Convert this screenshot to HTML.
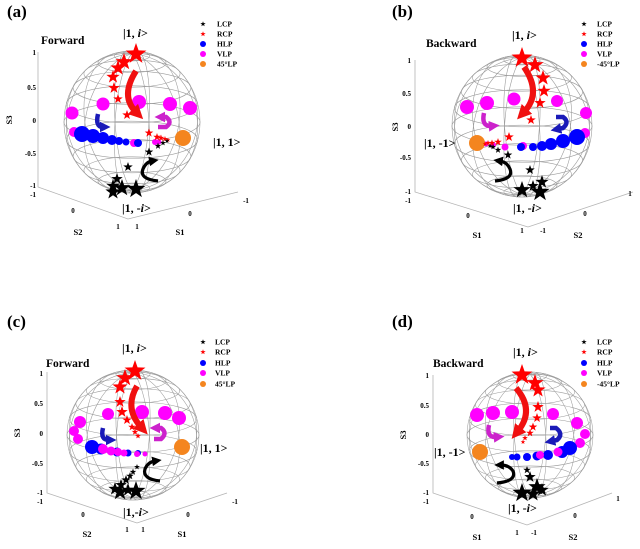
<!DOCTYPE html>
<html><head><meta charset="utf-8"><style>
html,body{margin:0;padding:0;background:#fff;}
svg{display:block;}
text{font-family:"Liberation Serif","Times New Roman",serif;fill:#000;}
.tk{font-size:7px;font-weight:bold;fill:#222;}
.al{font-size:8.5px;font-weight:bold;}
.lg{font-size:7.5px;font-weight:bold;}
.pl{font-size:17px;font-weight:bold;}
.dr{font-size:11.5px;font-weight:bold;}
.ket{font-size:12px;font-weight:bold;}
.ax{stroke:#b4b4b4;stroke-width:0.8;fill:none;}
</style></head><body>
<svg width="640" height="549" viewBox="0 0 640 549" xmlns="http://www.w3.org/2000/svg">
<defs>
<path id="st" d="M0,-1 L.235,-.324 L.951,-.309 L.38,.124 L.588,.809 L0,.4 L-.588,.809 L-.38,.124 L-.951,-.309 L-.235,-.324Z"/>
<g id="sph" fill="none" stroke="#9c9c9c" stroke-width="0.0085">
<circle r="1"/>
<ellipse rx="1" ry="0.27"/>
<ellipse cy="-0.2492" rx="0.9659" ry="0.2608"/>
<ellipse cy="0.2492" rx="0.9659" ry="0.2608"/>
<ellipse cy="-0.4815" rx="0.866" ry="0.2338"/>
<ellipse cy="0.4815" rx="0.866" ry="0.2338"/>
<ellipse cy="-0.6809" rx="0.7071" ry="0.1909"/>
<ellipse cy="0.6809" rx="0.7071" ry="0.1909"/>
<ellipse cy="-0.834" rx="0.5" ry="0.135"/>
<ellipse cy="0.834" rx="0.5" ry="0.135"/>
<ellipse cy="-0.9302" rx="0.2588" ry="0.0699"/>
<ellipse cy="0.9302" rx="0.2588" ry="0.0699"/>
<ellipse rx="1" ry="0.93" transform="rotate(44.8)"/>
<ellipse rx="1" ry="0.681" transform="rotate(74.9)"/>
<ellipse rx="1" ry="0.2492" transform="rotate(85.86)"/>
<ellipse rx="1" ry="0.2492" transform="rotate(-85.86)"/>
<ellipse rx="1" ry="0.681" transform="rotate(-74.9)"/>
<ellipse rx="1" ry="0.93" transform="rotate(-44.8)"/>
</g>
<marker id="aR" viewBox="0 0 10 10" refX="3" refY="5" markerWidth="2.4" markerHeight="2.4" orient="auto"><path d="M0,0 L10,5 L0,10z" fill="#f01010"/></marker>
<marker id="aM" viewBox="0 0 10 10" refX="3" refY="5" markerWidth="2.4" markerHeight="2.4" orient="auto"><path d="M0,0 L10,5 L0,10z" fill="#cc22cc"/></marker>
<marker id="aB" viewBox="0 0 10 10" refX="3" refY="5" markerWidth="2.4" markerHeight="2.4" orient="auto"><path d="M0,0 L10,5 L0,10z" fill="#1a1ab8"/></marker>
<marker id="aK" viewBox="0 0 10 10" refX="3" refY="5" markerWidth="3" markerHeight="3" orient="auto"><path d="M0,0 L10,5 L0,10z" fill="#000"/></marker>
</defs>

<!-- ================= PANEL A ================= -->
<text class="pl" x="7" y="17">(a)</text>
<text class="dr" x="41" y="44">Forward</text>
<path class="ax" d="M38,52 L38,187 L128,219 L238,192"/>
<g class="tk" text-anchor="end">
<text x="36" y="55">1</text><text x="36" y="90">0.5</text><text x="36" y="123">0</text><text x="36" y="156">-0.5</text><text x="36" y="188">-1</text><text x="36" y="197">-1</text>
</g>
<g class="tk" text-anchor="middle">
<text x="73" y="213">0</text><text x="118" y="229">1</text>
<text x="137" y="229">1</text><text x="190" y="216">0</text><text x="246" y="203">-1</text>
</g>
<text class="al" x="78" y="235" text-anchor="middle">S2</text>
<text class="al" x="180" y="235" text-anchor="middle">S1</text>
<text class="al" transform="translate(12,120) rotate(-90)" text-anchor="middle">S3</text>
<use href="#sph" transform="translate(132,122) scale(68,71)"/>
<g fill="#ff00ff">
<circle cx="103" cy="104" r="6.5"/><circle cx="139" cy="102" r="7"/><circle cx="170" cy="104" r="7"/><circle cx="190" cy="108" r="7"/><circle cx="72" cy="113" r="6.5"/><circle cx="74" cy="132" r="5"/><circle cx="134" cy="143" r="4"/><circle cx="155" cy="142" r="3"/><circle cx="159" cy="142" r="2.5"/>
</g>
<g fill="#0000ff">
<circle cx="82" cy="134" r="8"/><circle cx="93" cy="136" r="7"/><circle cx="103" cy="138" r="6"/><circle cx="112" cy="140" r="5"/><circle cx="119" cy="141" r="4"/><circle cx="126" cy="142" r="3.5"/><circle cx="138" cy="143" r="4"/>
</g>
<circle cx="183" cy="138" r="8" fill="#f4851f"/>
<g fill="#ff0000">
<use href="#st" transform="translate(136,54) scale(11)"/><use href="#st" transform="translate(124,62) scale(9)"/><use href="#st" transform="translate(118,68) scale(8)"/><use href="#st" transform="translate(113,77) scale(7)"/><use href="#st" transform="translate(114,88) scale(6)"/><use href="#st" transform="translate(118,99) scale(5)"/><use href="#st" transform="translate(127,115) scale(5)"/><use href="#st" transform="translate(149,133) scale(4.5)"/><use href="#st" transform="translate(157,137) scale(4)"/><use href="#st" transform="translate(161,138) scale(3.5)"/><use href="#st" transform="translate(165,139) scale(3)"/><use href="#st" transform="translate(168,140) scale(2.5)"/>
</g>
<g fill="#000">
<use href="#st" transform="translate(149,152) scale(4.5)"/><use href="#st" transform="translate(158,146) scale(3.5)"/><use href="#st" transform="translate(163,143) scale(3)"/><use href="#st" transform="translate(167,141) scale(2.5)"/><use href="#st" transform="translate(128,167) scale(5)"/><use href="#st" transform="translate(117,179) scale(6)"/><use href="#st" transform="translate(113,186) scale(7)"/><use href="#st" transform="translate(113,192) scale(8)"/><use href="#st" transform="translate(122,188) scale(9)"/><use href="#st" transform="translate(136,189) scale(10)"/>
</g>
<path d="M136,71 Q120,96 136,112" stroke="#f01010" stroke-width="6" fill="none" marker-end="url(#aR)"/>
<path d="M158,127 L166,127 Q173,122 166,117 L162,117" stroke="#cc22cc" stroke-width="4.5" fill="none" marker-end="url(#aM)"/>
<path d="M98,114 Q95,127 103,127" stroke="#1a1ab8" stroke-width="4.5" fill="none" marker-end="url(#aB)"/>
<path d="M158,181 Q139,179 143,169 Q146,162 152,161" stroke="#000" stroke-width="3.2" fill="none" marker-end="url(#aK)"/>
<text class="ket" x="123" y="37">|1, <tspan font-style="italic">i</tspan>&gt;</text>
<text class="ket" x="213" y="146">|1, 1&gt;</text>
<text class="ket" x="122" y="212">|1, -<tspan font-style="italic">i</tspan>&gt;</text>
<use href="#st" transform="translate(203,24) scale(2.8)" fill="#000"/>
<use href="#st" transform="translate(203,34) scale(2.8)" fill="#ff0000"/>
<circle cx="203" cy="44" r="3" fill="#0000ff"/>
<circle cx="203" cy="54" r="3" fill="#ff00ff"/>
<circle cx="203" cy="64" r="3" fill="#f4851f"/>
<g class="lg"><text x="217" y="26.5">LCP</text><text x="217" y="36.5">RCP</text><text x="217" y="46.5">HLP</text><text x="217" y="56.5">VLP</text><text x="217" y="66.5">45°LP</text></g>

<!-- ================= PANEL B ================= -->
<text class="pl" x="392" y="17">(b)</text>
<text class="dr" x="426" y="47">Backward</text>
<path class="ax" d="M415,60 L415,192 L528,227 L633,192"/>
<g class="tk" text-anchor="end">
<text x="411" y="63">1</text><text x="411" y="96">0.5</text><text x="411" y="129">0</text><text x="411" y="160">-0.5</text><text x="411" y="194">-1</text><text x="411" y="203">-1</text>
</g>
<g class="tk" text-anchor="middle">
<text x="468" y="218">0</text><text x="522" y="233">1</text>
<text x="543" y="233">-1</text><text x="585" y="216">0</text><text x="630" y="196">1</text>
</g>
<text class="al" x="477" y="238" text-anchor="middle">S1</text>
<text class="al" x="578" y="238" text-anchor="middle">S2</text>
<text class="al" transform="translate(398,127) rotate(-90)" text-anchor="middle">S3</text>
<use href="#sph" transform="translate(522,126) scale(70,71)"/>
<g fill="#ff00ff">
<circle cx="467" cy="107" r="7"/><circle cx="487" cy="103" r="7"/><circle cx="514" cy="99" r="6.5"/><circle cx="557" cy="101" r="6"/><circle cx="586" cy="113" r="6"/><circle cx="585" cy="133" r="5"/><circle cx="523" cy="146" r="4"/><circle cx="505" cy="147" r="3.5"/><circle cx="493" cy="145" r="3"/><circle cx="486" cy="144" r="2.5"/>
</g>
<g fill="#0000ff">
<circle cx="577" cy="137" r="8"/><circle cx="563" cy="141" r="7"/><circle cx="551" cy="144" r="6"/><circle cx="542" cy="146" r="5"/><circle cx="533" cy="147" r="4"/><circle cx="521" cy="147" r="4"/>
</g>
<circle cx="477" cy="143" r="8" fill="#f4851f"/>
<g fill="#ff0000">
<use href="#st" transform="translate(522,58) scale(11)"/><use href="#st" transform="translate(535,65) scale(9)"/><use href="#st" transform="translate(543,78) scale(8)"/><use href="#st" transform="translate(544,91) scale(7)"/><use href="#st" transform="translate(540,103) scale(6)"/><use href="#st" transform="translate(531,120) scale(5)"/><use href="#st" transform="translate(509,137) scale(5)"/><use href="#st" transform="translate(498,142) scale(4)"/><use href="#st" transform="translate(492,143) scale(3.5)"/><use href="#st" transform="translate(488,143) scale(3)"/><use href="#st" transform="translate(485,144) scale(2.5)"/>
</g>
<g fill="#000">
<use href="#st" transform="translate(508,155) scale(4.5)"/><use href="#st" transform="translate(498,150) scale(3.5)"/><use href="#st" transform="translate(493,147) scale(3)"/><use href="#st" transform="translate(490,146) scale(2.5)"/><use href="#st" transform="translate(530,170) scale(5)"/><use href="#st" transform="translate(522,190) scale(9)"/><use href="#st" transform="translate(542,182) scale(7)"/><use href="#st" transform="translate(540,192) scale(10)"/><use href="#st" transform="translate(533,186) scale(6)"/>
</g>
<path d="M524,67 Q542,93 524,112" stroke="#f01010" stroke-width="6" fill="none" marker-end="url(#aR)"/>
<path d="M484,113 Q481,127 492,126" stroke="#cc22cc" stroke-width="4.5" fill="none" marker-end="url(#aM)"/>
<path d="M556,117 L563,117 Q570,122 563,128 L558,129" stroke="#1a1ab8" stroke-width="4.5" fill="none" marker-end="url(#aB)"/>
<path d="M495,181 Q514,179 510,169 Q507,162 500,161" stroke="#000" stroke-width="3.2" fill="none" marker-end="url(#aK)"/>
<text class="ket" x="512" y="39">|1, <tspan font-style="italic">i</tspan>&gt;</text>
<text class="ket" x="424" y="147">|1, -1&gt;</text>
<text class="ket" x="513" y="212">|1, -<tspan font-style="italic">i</tspan>&gt;</text>
<use href="#st" transform="translate(584,24) scale(2.8)" fill="#000"/>
<use href="#st" transform="translate(584,34) scale(2.8)" fill="#ff0000"/>
<circle cx="584" cy="44" r="3" fill="#0000ff"/>
<circle cx="584" cy="54" r="3" fill="#ff00ff"/>
<circle cx="584" cy="64" r="3" fill="#f4851f"/>
<g class="lg"><text x="597" y="26.5">LCP</text><text x="597" y="36.5">RCP</text><text x="597" y="46.5">HLP</text><text x="597" y="56.5">VLP</text><text x="597" y="66.5">-45°LP</text></g>

<!-- ================= PANEL C ================= -->
<text class="pl" x="7" y="327">(c)</text>
<text class="dr" x="46" y="367">Forward</text>
<path class="ax" d="M47,372 L47,493 L137,523 L227,493"/>
<g class="tk" text-anchor="end">
<text x="43" y="376">1</text><text x="43" y="406">0.5</text><text x="43" y="436">0</text><text x="43" y="466">-0.5</text><text x="43" y="495">-1</text><text x="43" y="504">-1</text>
</g>
<g class="tk" text-anchor="middle">
<text x="83" y="517">0</text><text x="127" y="532">1</text>
<text x="143" y="532">1</text><text x="188" y="517">0</text><text x="235" y="504">-1</text>
</g>
<text class="al" x="87" y="537" text-anchor="middle">S2</text>
<text class="al" x="182" y="537" text-anchor="middle">S1</text>
<text class="al" transform="translate(20,433) rotate(-90)" text-anchor="middle">S3</text>
<use href="#sph" transform="translate(133,435) scale(66,65)"/>
<g fill="#ff00ff">
<circle cx="80" cy="422" r="6"/><circle cx="74" cy="431" r="5"/><circle cx="78" cy="439" r="5"/><circle cx="108" cy="414" r="6"/><circle cx="142" cy="412" r="7"/><circle cx="165" cy="413" r="7"/><circle cx="179" cy="418" r="7"/>
</g>
<g fill="#0000ff">
<circle cx="92" cy="447" r="7"/><circle cx="101" cy="449" r="5.5"/><circle cx="117" cy="452" r="4.5"/><circle cx="128" cy="453" r="3.5"/><circle cx="138" cy="453" r="3"/>
</g>
<g fill="#ff00ff">
<circle cx="103" cy="449" r="5"/><circle cx="111" cy="451" r="4.5"/><circle cx="118" cy="452" r="4"/><circle cx="124" cy="453" r="3.5"/><circle cx="137" cy="454" r="3"/><circle cx="145" cy="454" r="2.5"/>
</g>
<circle cx="182" cy="447" r="8" fill="#f4851f"/>
<g fill="#ff0000">
<use href="#st" transform="translate(135,371) scale(11)"/><use href="#st" transform="translate(125,378) scale(9)"/><use href="#st" transform="translate(120,387) scale(8)"/><use href="#st" transform="translate(120,402) scale(6)"/><use href="#st" transform="translate(122,412) scale(6)"/><use href="#st" transform="translate(127,420) scale(5)"/><use href="#st" transform="translate(132,427) scale(4)"/><use href="#st" transform="translate(135,432) scale(3.5)"/><use href="#st" transform="translate(138,436) scale(3)"/>
</g>
<g fill="#000">
<use href="#st" transform="translate(137,467) scale(3)"/><use href="#st" transform="translate(133,472) scale(3.5)"/><use href="#st" transform="translate(130,476) scale(4)"/><use href="#st" transform="translate(126,480) scale(5)"/><use href="#st" transform="translate(121,485) scale(6)"/><use href="#st" transform="translate(115,489) scale(7)"/><use href="#st" transform="translate(128,490) scale(7)"/><use href="#st" transform="translate(120,492) scale(9)"/><use href="#st" transform="translate(136,491) scale(10)"/>
</g>
<path d="M137,386 Q124,408 141,427" stroke="#f01010" stroke-width="6" fill="none" marker-end="url(#aR)"/>
<path d="M154,439 L161,439 Q168,433 161,428 L157,428" stroke="#cc22cc" stroke-width="4.5" fill="none" marker-end="url(#aM)"/>
<path d="M103,428 Q100,440 109,440" stroke="#1a1ab8" stroke-width="4.5" fill="none" marker-end="url(#aB)"/>
<path d="M160,481 Q142,479 145,469 Q148,462 155,461" stroke="#000" stroke-width="3.2" fill="none" marker-end="url(#aK)"/>
<text class="ket" x="122" y="352">|1, <tspan font-style="italic">i</tspan>&gt;</text>
<text class="ket" x="200" y="452">|1, 1&gt;</text>
<text class="ket" x="123" y="516">|1,-<tspan font-style="italic">i</tspan>&gt;</text>
<use href="#st" transform="translate(203,342) scale(2.8)" fill="#000"/>
<use href="#st" transform="translate(203,352) scale(2.8)" fill="#ff0000"/>
<circle cx="203" cy="363" r="3" fill="#0000ff"/>
<circle cx="203" cy="373" r="3" fill="#ff00ff"/>
<circle cx="203" cy="384" r="3" fill="#f4851f"/>
<g class="lg"><text x="215" y="344.5">LCP</text><text x="215" y="354.5">RCP</text><text x="215" y="365.5">HLP</text><text x="215" y="375.5">VLP</text><text x="215" y="386.5">45°LP</text></g>

<!-- ================= PANEL D ================= -->
<text class="pl" x="392" y="327">(d)</text>
<text class="dr" x="433" y="367">Backward</text>
<path class="ax" d="M433,375 L433,493 L527,525 L612,493"/>
<g class="tk" text-anchor="end">
<text x="429" y="378">1</text><text x="429" y="408">0.5</text><text x="429" y="437">0</text><text x="429" y="466">-0.5</text><text x="429" y="495">-1</text><text x="429" y="504">-1</text>
</g>
<g class="tk" text-anchor="middle">
<text x="472" y="519">0</text><text x="517" y="535">1</text>
<text x="534" y="535">-1</text><text x="575" y="518">0</text><text x="618" y="501">1</text>
</g>
<text class="al" x="477" y="540" text-anchor="middle">S1</text>
<text class="al" x="573" y="540" text-anchor="middle">S2</text>
<text class="al" transform="translate(406,435) rotate(-90)" text-anchor="middle">S3</text>
<use href="#sph" transform="translate(530,435) scale(63,63)"/>
<g fill="#ff00ff">
<circle cx="477" cy="415" r="7"/><circle cx="493" cy="413" r="7"/><circle cx="512" cy="412" r="7"/><circle cx="553" cy="414" r="6"/><circle cx="577" cy="423" r="6"/><circle cx="585" cy="434" r="5"/><circle cx="580" cy="443" r="5"/>
</g>
<g fill="#0000ff">
<circle cx="570" cy="448" r="7"/><circle cx="562" cy="452" r="6"/><circle cx="548" cy="455" r="5"/><circle cx="537" cy="456" r="4.5"/><circle cx="527" cy="457" r="4"/><circle cx="517" cy="457" r="3.5"/><circle cx="512" cy="457" r="3"/>
</g>
<g fill="#ff00ff"><circle cx="558" cy="452" r="4.5"/><circle cx="540" cy="455" r="4"/></g>
<circle cx="480" cy="452" r="8" fill="#f4851f"/>
<g fill="#ff0000">
<use href="#st" transform="translate(522,375) scale(11)"/><use href="#st" transform="translate(535,383) scale(9)"/><use href="#st" transform="translate(538,390) scale(8)"/><use href="#st" transform="translate(538,407) scale(6)"/><use href="#st" transform="translate(537,418) scale(5)"/><use href="#st" transform="translate(533,427) scale(4.5)"/><use href="#st" transform="translate(530,433) scale(4)"/><use href="#st" transform="translate(525,438) scale(3)"/><use href="#st" transform="translate(523,442) scale(2.5)"/>
</g>
<g fill="#000">
<use href="#st" transform="translate(527,470) scale(4)"/><use href="#st" transform="translate(530,477) scale(6)"/><use href="#st" transform="translate(537,487) scale(9)"/><use href="#st" transform="translate(542,490) scale(7)"/><use href="#st" transform="translate(522,493) scale(10)"/><use href="#st" transform="translate(533,494) scale(8)"/>
</g>
<path d="M516,388 Q535,410 518,431" stroke="#f01010" stroke-width="6" fill="none" marker-end="url(#aR)"/>
<path d="M489,425 Q486,438 497,437" stroke="#cc22cc" stroke-width="4.5" fill="none" marker-end="url(#aM)"/>
<path d="M550,428 L556,428 Q564,434 557,440 L552,441" stroke="#1a1ab8" stroke-width="4.5" fill="none" marker-end="url(#aB)"/>
<path d="M497,483 Q517,481 513,471 Q509,465 501,465" stroke="#000" stroke-width="3.2" fill="none" marker-end="url(#aK)"/>
<text class="ket" x="513" y="356">|1, <tspan font-style="italic">i</tspan>&gt;</text>
<text class="ket" x="434" y="456">|1, -1&gt;</text>
<text class="ket" x="508" y="512">|1, -<tspan font-style="italic">i</tspan>&gt;</text>
<use href="#st" transform="translate(584,342) scale(2.8)" fill="#000"/>
<use href="#st" transform="translate(584,352) scale(2.8)" fill="#ff0000"/>
<circle cx="584" cy="363" r="3" fill="#0000ff"/>
<circle cx="584" cy="373" r="3" fill="#ff00ff"/>
<circle cx="584" cy="384" r="3" fill="#f4851f"/>
<g class="lg"><text x="597" y="344.5">LCP</text><text x="597" y="354.5">RCP</text><text x="597" y="365.5">HLP</text><text x="597" y="375.5">VLP</text><text x="597" y="386.5">-45°LP</text></g>
</svg>
</body></html>
